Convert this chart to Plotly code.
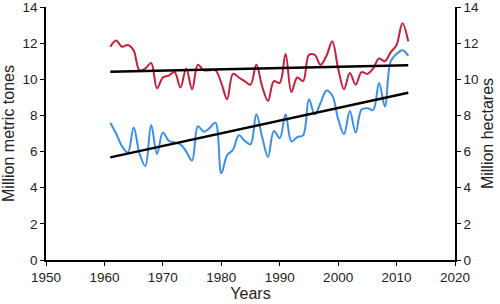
import plotly.graph_objects as go

years = list(range(1961, 2013))
area_mha = [11.8, 12.15, 11.8, 11.9, 11.6, 10.5, 10.6, 10.9, 9.5, 10.1,
            10.2, 10.4, 9.55, 10.6, 9.45, 10.8, 10.5, 10.5, 10.5, 9.8,
            8.9, 10.3, 10.1, 9.9, 9.7, 10.8, 9.6, 8.8, 9.9, 9.8,
            11.4, 9.3, 10.1, 9.9, 11.35, 11.35, 10.8, 11.3, 12.1, 10.6,
            9.45, 10.35, 9.7, 10.4, 10.3, 10.6, 11.15, 11.0, 11.5, 11.9,
            13.1, 12.1]
prod_mt = [7.6, 7.0, 6.3, 5.95, 7.33, 5.9, 5.2, 7.47, 5.86, 7.05,
           6.6, 6.5, 6.4, 6.0, 5.5, 7.4, 7.1, 7.3, 7.6, 4.8,
           5.8, 6.1, 6.9, 6.6, 6.4, 8.06, 6.8, 5.7, 7.14, 6.74,
           8.06, 6.56, 6.8, 6.9, 8.9, 8.06, 8.7, 9.38, 9.1, 7.8,
           6.96, 8.24, 7.05, 8.33, 8.4, 8.3, 9.8, 8.5, 11.0, 11.4,
           11.6, 11.3]
trend_years = [1961, 2012]
area_trend = [10.42, 10.78]
prod_trend = [5.68, 9.25]
x_ticks = [1950, 1960, 1970, 1980, 1990, 2000, 2010, 2020]
y_ticks = [0, 2, 4, 6, 8, 10, 12, 14]

RED = "#C8203C"
BLUE = "#3B8EEA"
FONT = "Liberation Sans, Arial, sans-serif"

fig = go.Figure()
fig.add_trace(go.Scatter(x=years, y=area_mha, mode="lines", yaxis="y2",
                         line=dict(color=RED, width=2, shape="spline", smoothing=1.0),
                         showlegend=False))
fig.add_trace(go.Scatter(x=years, y=prod_mt, mode="lines",
                         line=dict(color=BLUE, width=2, shape="spline", smoothing=1.0),
                         showlegend=False))
fig.add_trace(go.Scatter(x=trend_years, y=area_trend, mode="lines", yaxis="y2",
                         line=dict(color="black", width=2.5), showlegend=False))
fig.add_trace(go.Scatter(x=trend_years, y=prod_trend, mode="lines",
                         line=dict(color="black", width=2.5), showlegend=False))

axis_common = dict(showgrid=False, zeroline=False, showline=True, linecolor="black",
                   linewidth=1.5, ticks="outside", ticklen=4, tickcolor="black",
                   ticklabeloverflow="allow",
                   tickfont=dict(family=FONT, size=13.5, color="#222"))

fig.update_layout(
    width=500, height=304,
    margin=dict(l=46, r=45, t=7, b=44, autoexpand=False),
    paper_bgcolor="white", plot_bgcolor="white",
    font=dict(family=FONT, color="#222"),
    xaxis=dict(range=[1950, 2020], tickvals=x_ticks,
               title=dict(text="Years", font=dict(family=FONT, size=16), standoff=2),
               **axis_common),
    yaxis=dict(range=[0, 14], tickvals=y_ticks,
               title=dict(text="Million metric tones", font=dict(family=FONT, size=16), standoff=4),
               **axis_common),
    yaxis2=dict(range=[0, 14], tickvals=y_ticks, overlaying="y", side="right",
                title=dict(text="Million hectares", font=dict(family=FONT, size=16), standoff=4),
                **axis_common),
)

fig.write_html("out.html", config={"displayModeBar": False},
               post_script="document.body.style.margin='0';")
